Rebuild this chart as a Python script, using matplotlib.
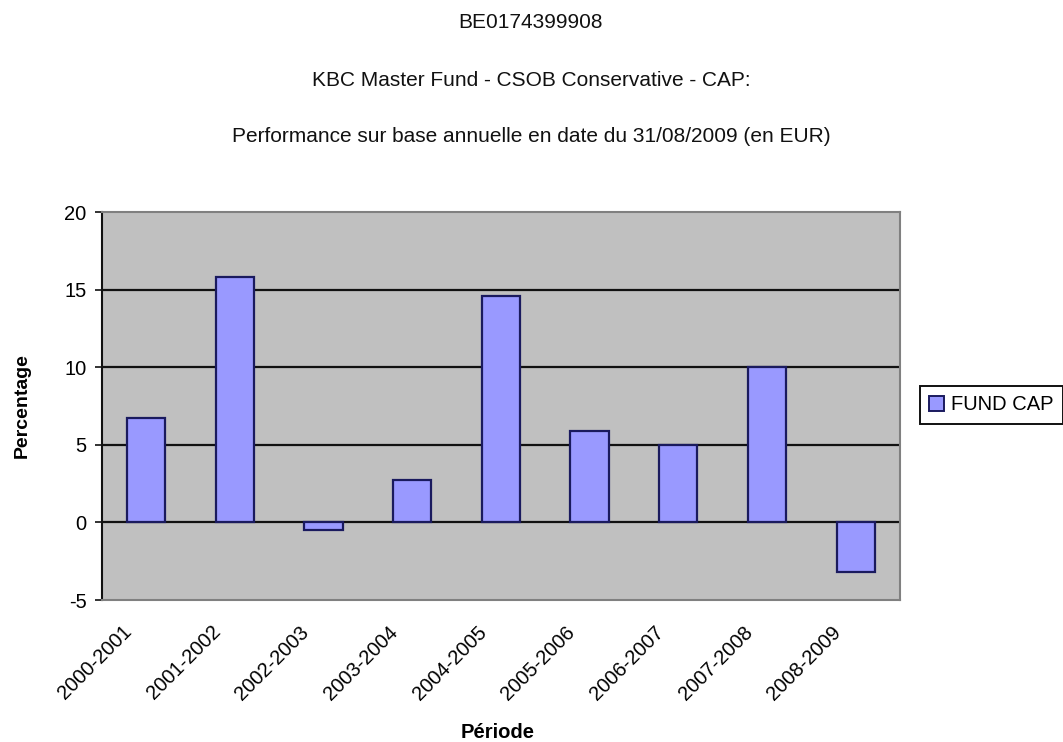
import matplotlib
matplotlib.use("Agg")
import matplotlib.pyplot as plt
from matplotlib.patches import Patch
from matplotlib.transforms import ScaledTranslation

plt.rcParams['font.family'] = ['Liberation Sans', 'DejaVu Sans']

periods = ["2000-2001", "2001-2002", "2002-2003", "2003-2004", "2004-2005",
           "2005-2006", "2006-2007", "2007-2008", "2008-2009"]
fund_cap = [6.7, 15.8, -0.5, 2.7, 14.6, 5.9, 5.0, 10.0, -3.2]
y_ticks = [-5, 0, 5, 10, 15, 20]

title_lines = ["BE0174399908",
               "KBC Master Fund - CSOB Conservative - CAP:",
               "Performance sur base annuelle en date du 31/08/2009 (en EUR)"]

W, H = 1063, 742
fig = plt.figure(figsize=(W / 100, H / 100), dpi=100)
fig.patch.set_facecolor("white")

ax = fig.add_axes([101.7 / W, 1 - 600 / H, (900 - 101.7) / W, (600 - 212) / H])
ax.set_facecolor("#C0C0C0")

x = list(range(len(periods)))
ax.bar(x, fund_cap, width=0.43, color="#9999FF", edgecolor="#1A1A5E",
       linewidth=1.6, zorder=3)

for v in [0, 5, 10, 15]:
    ax.axhline(v, color="#111111", linewidth=1.6, zorder=2)

ax.set_xlim(-0.5, len(periods) - 0.5)
ax.set_ylim(-5, 20)
ax.set_yticks(y_ticks)
ax.set_yticklabels([str(t) for t in y_ticks], fontsize=14.5)
ax.set_xticks(x)
ax.set_xticklabels(periods, rotation=45, ha="right", rotation_mode="anchor",
                   fontsize=14.5)
ax.tick_params(axis="x", length=0, pad=16)
ax.tick_params(axis="y", length=5, width=1.2, color="#111111", pad=6)

# shift the slanted period labels so they end just left of each bar
shift = ScaledTranslation(-24 / 100, 0, fig.dpi_scale_trans)
for lbl in ax.get_xticklabels():
    lbl.set_transform(lbl.get_transform() + shift)

for side in ["top", "right", "bottom"]:
    ax.spines[side].set_color("#808080")
    ax.spines[side].set_linewidth(1.5)
ax.spines["left"].set_color("#111111")
ax.spines["left"].set_linewidth(1.5)

ax.set_ylabel("Percentage", fontsize=14, fontweight="bold", labelpad=22)
ax.set_xlabel("Période", fontsize=14.5, fontweight="bold", labelpad=2)
ax.xaxis.set_label_coords((498 - 101.7) / (900 - 101.7), (600 - 733) / (600 - 212))
ax.yaxis.set_label_coords((22 - 101.7) / (900 - 101.7), 0.5)
ax.xaxis.label.set_va("center")
ax.yaxis.label.set_va("center")

for line, ypix in zip(title_lines, [23, 80, 137]):
    fig.text(531 / W, 1 - ypix / H, line, ha="center", va="center",
             fontsize=15, color="#111111")

handle = Patch(facecolor="#9999FF", edgecolor="#1A1A5E", linewidth=1.4)
leg = fig.legend([handle], ["FUND CAP"], loc="center left",
                 bbox_to_anchor=(920 / W, 1 - 405 / H), fontsize=14.5,
                 handlelength=0.75, handleheight=0.75, handletextpad=0.35,
                 borderpad=0.45, borderaxespad=0, fancybox=False,
                 framealpha=1)
leg.get_frame().set_edgecolor("#111111")
leg.get_frame().set_linewidth(1.4)

fig.savefig("out.png", dpi=100, facecolor="white")
